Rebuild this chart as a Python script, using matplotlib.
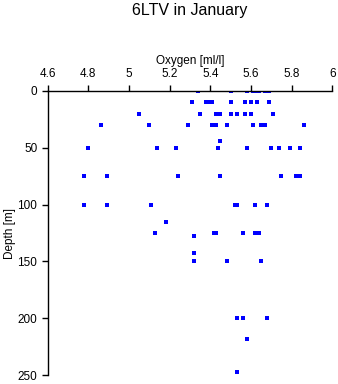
import matplotlib
matplotlib.use("Agg")
import matplotlib.pyplot as plt

plt.rcParams['font.family'] = ['Liberation Sans', 'DejaVu Sans']

title = "6LTV in January"
x_label = "Oxygen [ml/l]"
y_label = "Depth [m]"
x_ticks = [4.6, 4.8, 5.0, 5.2, 5.4, 5.6, 5.8, 6.0]
x_tick_labels = ["4.6", "4.8", "5", "5.2", "5.4", "5.6", "5.8", "6"]
y_ticks = [0, 50, 100, 150, 200, 250]

depth = ([0] * 8 + [10] * 9 + [20] * 10 + [30] * 10 + [44] + [50] * 9 + [75] * 7 +
         [100] * 7 + [115] + [125] * 7 + [128] + [143] + [150] * 3 + [200] * 3 + [218] + [247])
oxygen = [5.34, 5.50, 5.58, 5.61, 5.63, 5.64, 5.67, 5.69,
          5.31, 5.38, 5.40, 5.41, 5.50, 5.57, 5.60, 5.63, 5.69,
          5.05, 5.35, 5.43, 5.44, 5.45, 5.50, 5.53, 5.57, 5.60, 5.71,
          4.86, 5.10, 5.29, 5.41, 5.43, 5.48, 5.61, 5.65, 5.67, 5.86,
          5.45,
          4.80, 5.14, 5.23, 5.44, 5.58, 5.70, 5.74, 5.79, 5.84,
          4.78, 4.89, 5.24, 5.45, 5.75, 5.82, 5.84,
          4.78, 4.89, 5.11, 5.52, 5.53, 5.62, 5.68,
          5.18,
          5.13, 5.42, 5.43, 5.56, 5.62, 5.63, 5.64,
          5.32,
          5.32,
          5.32, 5.48, 5.65,
          5.53, 5.56, 5.68,
          5.58,
          5.53]

fig = plt.figure(figsize=(3.38, 3.84), dpi=100)
ax = fig.add_axes([0.141, 0.0227, 0.842, 0.741])
ax.plot(oxygen, depth, linestyle='none', marker='s', markersize=2.3,
        color='#0000ff', markeredgewidth=0)
ax.set_xlim(4.6, 6.0)
ax.set_ylim(250, 0)
ax.xaxis.tick_top()
ax.xaxis.set_label_position('top')
ax.set_xticks(x_ticks)
ax.set_xticklabels(x_tick_labels)
ax.set_yticks(y_ticks)
ax.spines['right'].set_visible(False)
ax.spines['bottom'].set_visible(False)
for s in ('top', 'left'):
    ax.spines[s].set_linewidth(1.0)
    ax.spines[s].set_color('black')
ax.tick_params(axis='both', direction='out', length=4.5, width=1.0,
               labelsize=8.5, pad=3)
ax.set_xlabel(x_label, fontsize=8.5, labelpad=3)
ax.set_ylabel(y_label, fontsize=8.5, labelpad=1)
fig.text(0.562, 0.992, title, ha='center', va='top', fontsize=11.5)
fig.savefig("out.png", dpi=100)
